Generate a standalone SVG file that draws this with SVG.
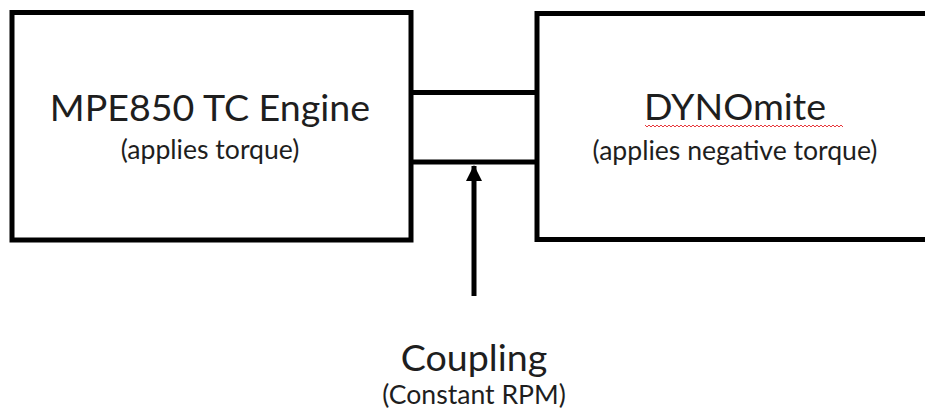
<svg xmlns="http://www.w3.org/2000/svg" width="925" height="409" viewBox="0 0 925 409">
  <style>
    .box { fill: #ffffff; stroke: #000000; stroke-width: 5; }
    .shaft { fill: none; stroke: #000000; stroke-width: 5; }
    .title { font-family: Lato, "Open Sans", sans-serif; fill: #1e1e1e; text-anchor: middle; }
    .main { font-size: 37.6px; }
    .sub { font-size: 26.6px; }
    .squiggle { fill: none; stroke: #e8383d; stroke-width: 1; }
  </style>
  <defs>
    <marker id="arrowhead" markerWidth="4" markerHeight="4" refX="3" refY="2" orient="auto" markerUnits="strokeWidth">
      <path d="M0,0.4 L3.2,2 L0,3.6 Z" fill="#000000"/>
    </marker>
  </defs>
  <rect width="925" height="409" fill="#ffffff"/>

  <!-- connectors: the coupling shaft and the pointer to it -->
  <g id="connectors">
    <line class="shaft" x1="411" y1="92.5" x2="537" y2="92.5"/>
    <line class="shaft" x1="411" y1="162" x2="537" y2="162"/>
    <line class="shaft" x1="474" y1="296" x2="474" y2="166" marker-end="url(#arrowhead)"/>
  </g>

  <g id="engine">
    <rect class="box" x="12" y="12.5" width="399" height="227.5"/>
    <text class="title main" x="210" y="121">MPE850 TC Engine</text>
    <text class="title sub" x="210" y="159">(applies torque)</text>
  </g>

  <g id="dynomite">
    <rect class="box" x="537" y="13.5" width="400" height="226"/>
    <text class="title main" x="735" y="120">DYNOmite</text>
    <path class="squiggle" d="M645,125 l2,2 l2,-2 l2,2 l2,-2 l2,2 l2,-2 l2,2 l2,-2 l2,2 l2,-2 l2,2 l2,-2 l2,2 l2,-2 l2,2 l2,-2 l2,2 l2,-2 l2,2 l2,-2 l2,2 l2,-2 l2,2 l2,-2 l2,2 l2,-2 l2,2 l2,-2 l2,2 l2,-2 l2,2 l2,-2 l2,2 l2,-2 l2,2 l2,-2 l2,2 l2,-2 l2,2 l2,-2 l2,2 l2,-2 l2,2 l2,-2 l2,2 l2,-2 l2,2 l2,-2 l2,2 l2,-2 l2,2 l2,-2 l2,2 l2,-2 l2,2 l2,-2 l2,2 l2,-2 l2,2 l2,-2 l2,2 l2,-2 l2,2 l2,-2 l2,2 l2,-2 l2,2 l2,-2 l2,2 l2,-2 l2,2 l2,-2 l2,2 l2,-2 l2,2 l2,-2 l2,2 l2,-2 l2,2 l2,-2 l2,2 l2,-2 l2,2 l2,-2 l2,2 l2,-2 l2,2 l2,-2 l2,2 l2,-2 l2,2 l2,-2 l2,2 l2,-2 l2,2 l2,-2 l2,2 l2,-2 l2,2"/>
    <text class="title sub" x="735" y="160">(applies negative torque)</text>
  </g>

  <g id="coupling">
    <text class="title main" x="474" y="371" font-size="41.6">Coupling</text>
    <text class="title sub" x="474" y="404" font-size="26.2">(Constant RPM)</text>
  </g>
</svg>
